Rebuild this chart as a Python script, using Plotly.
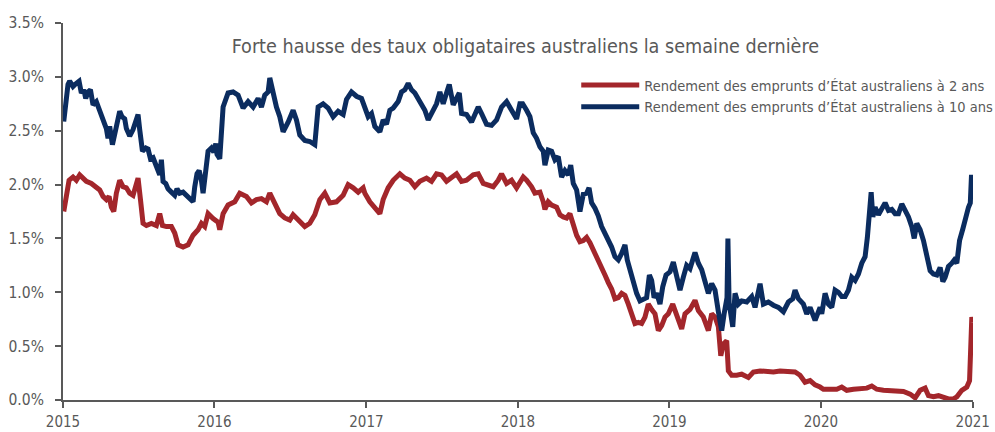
import pandas as pd
import plotly.graph_objects as go

# Time positions are in years since 2015-01-01
t_2y = [0.005, 0.022, 0.040, 0.066, 0.088, 0.110, 0.132, 0.154, 0.187, 0.220, 0.242, 0.264, 0.286, 0.304,
        0.319, 0.335, 0.352, 0.374, 0.396, 0.418, 0.440, 0.462, 0.480, 0.495, 0.511, 0.528, 0.550, 0.583,
        0.616, 0.638, 0.656, 0.682, 0.715, 0.737, 0.759, 0.792, 0.825, 0.858, 0.891, 0.913, 0.935, 0.957,
        0.990, 1.023, 1.034, 1.056, 1.089, 1.133, 1.166, 1.210, 1.243, 1.276, 1.309, 1.342, 1.364, 1.397,
        1.430, 1.463, 1.496, 1.518, 1.551, 1.595, 1.628, 1.661, 1.694, 1.727, 1.760, 1.804, 1.848, 1.881,
        1.914, 1.947, 1.980, 1.991, 2.024, 2.057, 2.090, 2.112, 2.145, 2.178, 2.222, 2.255, 2.288, 2.321,
        2.354, 2.398, 2.431, 2.464, 2.497, 2.530, 2.563, 2.596, 2.629, 2.662, 2.706, 2.739, 2.772, 2.805,
        2.838, 2.871, 2.893, 2.926, 2.959, 2.992, 3.036, 3.058, 3.091, 3.113, 3.146, 3.168, 3.179, 3.201,
        3.223, 3.256, 3.278, 3.300, 3.322, 3.344, 3.366, 3.388, 3.410, 3.432, 3.454, 3.476, 3.509, 3.531,
        3.553, 3.575, 3.597, 3.619, 3.641, 3.663, 3.685, 3.707, 3.729, 3.751, 3.773, 3.795, 3.817, 3.839,
        3.861, 3.883, 3.905, 3.927, 3.949, 3.971, 3.993, 4.022, 4.048, 4.081, 4.103, 4.136, 4.169, 4.191,
        4.224, 4.257, 4.279, 4.301, 4.323, 4.339, 4.356, 4.378, 4.389, 4.411, 4.444, 4.477, 4.521, 4.554,
        4.598, 4.642, 4.686, 4.730, 4.785, 4.829, 4.862, 4.895, 4.928, 4.961, 4.994, 5.016, 5.060, 5.104,
        5.137, 5.170, 5.214, 5.258, 5.302, 5.335, 5.368, 5.412, 5.456, 5.500, 5.544, 5.588, 5.621, 5.654,
        5.687, 5.709, 5.742, 5.775, 5.808, 5.841, 5.874, 5.896, 5.929, 5.962, 5.980, 5.990, 5.995, 6.000]
y_2y = [1.75, 1.92, 2.04, 2.07, 2.04, 2.09, 2.06, 2.03, 2.01, 1.98, 1.95, 1.89, 1.86, 1.89,
        1.79, 1.75, 1.92, 2.04, 1.98, 1.97, 1.92, 1.90, 2.00, 2.06, 1.86, 1.64, 1.62, 1.64,
        1.62, 1.73, 1.62, 1.61, 1.61, 1.55, 1.44, 1.42, 1.44, 1.53, 1.58, 1.64, 1.61, 1.73,
        1.685, 1.65, 1.58, 1.73, 1.81, 1.84, 1.92, 1.89, 1.83, 1.86, 1.87, 1.84, 1.92, 1.83,
        1.73, 1.69, 1.67, 1.72, 1.67, 1.61, 1.64, 1.72, 1.86, 1.92, 1.83, 1.84, 1.90, 2.00,
        1.97, 1.93, 1.97, 1.92, 1.84, 1.79, 1.73, 1.86, 1.97, 2.04, 2.10, 2.06, 2.04, 1.98,
        2.03, 2.06, 2.03, 2.10, 2.09, 2.03, 2.07, 2.10, 2.03, 2.04, 2.09, 2.10, 2.01, 2.00,
        1.98, 2.04, 2.10, 2.01, 2.04, 1.97, 2.07, 2.04, 1.98, 1.92, 1.93, 1.84, 1.77, 1.84,
        1.81, 1.79, 1.72, 1.70, 1.69, 1.73, 1.61, 1.53, 1.47, 1.48, 1.51, 1.46, 1.36, 1.30,
        1.24, 1.16, 1.09, 1.03, 0.94, 0.95, 0.99, 0.97, 0.89, 0.80, 0.71, 0.72, 0.71, 0.77,
        0.89, 0.84, 0.80, 0.645, 0.69, 0.77, 0.80, 0.89, 0.79, 0.66, 0.80, 0.84, 0.925, 0.83,
        0.77, 0.645, 0.80, 0.77, 0.68, 0.41, 0.52, 0.55, 0.27, 0.23, 0.23, 0.24, 0.21, 0.26,
        0.27, 0.26, 0.26, 0.27, 0.26, 0.26, 0.23, 0.165, 0.18, 0.14, 0.12, 0.10, 0.10, 0.10,
        0.12, 0.09, 0.10, 0.11, 0.11, 0.13, 0.10, 0.09, 0.09, 0.09, 0.08, 0.055, 0.02, 0.09,
        0.11, 0.04, 0.03, 0.04, 0.02, 0.01, 0.01, 0.03, 0.09, 0.12, 0.18, 0.615, 0.77, 0.72]

t_10y = [0.005, 0.022, 0.033, 0.044, 0.066, 0.088, 0.106, 0.121, 0.137, 0.150, 0.165, 0.181, 0.198, 0.220,
         0.242, 0.264, 0.286, 0.297, 0.308, 0.326, 0.341, 0.356, 0.374, 0.389, 0.407, 0.418, 0.440, 0.462,
         0.480, 0.495, 0.506, 0.524, 0.546, 0.561, 0.577, 0.594, 0.616, 0.638, 0.649, 0.660, 0.678, 0.693,
         0.715, 0.737, 0.752, 0.770, 0.792, 0.814, 0.836, 0.858, 0.869, 0.884, 0.898, 0.913, 0.924, 0.942,
         0.957, 0.979, 0.995, 1.008, 1.016, 1.034, 1.056, 1.089, 1.122, 1.155, 1.188, 1.221, 1.254, 1.287,
         1.309, 1.331, 1.353, 1.364, 1.386, 1.408, 1.430, 1.452, 1.485, 1.518, 1.540, 1.562, 1.595, 1.628,
         1.661, 1.683, 1.716, 1.749, 1.782, 1.815, 1.848, 1.870, 1.903, 1.936, 1.969, 1.991, 2.013, 2.035,
         2.057, 2.090, 2.112, 2.134, 2.156, 2.178, 2.211, 2.233, 2.255, 2.277, 2.299, 2.321, 2.343, 2.365,
         2.387, 2.409, 2.431, 2.464, 2.486, 2.508, 2.530, 2.548, 2.574, 2.596, 2.614, 2.629, 2.662, 2.695,
         2.717, 2.739, 2.761, 2.794, 2.827, 2.860, 2.893, 2.926, 2.959, 2.992, 3.014, 3.032, 3.058, 3.080,
         3.102, 3.124, 3.146, 3.168, 3.179, 3.201, 3.223, 3.245, 3.267, 3.289, 3.311, 3.333, 3.349, 3.366,
         3.388, 3.410, 3.432, 3.454, 3.470, 3.487, 3.509, 3.531, 3.553, 3.575, 3.597, 3.619, 3.641, 3.663,
         3.685, 3.707, 3.722, 3.740, 3.762, 3.784, 3.806, 3.828, 3.850, 3.868, 3.883, 3.899, 3.916, 3.938,
         3.956, 3.978, 4.004, 4.026, 4.048, 4.070, 4.092, 4.114, 4.136, 4.154, 4.169, 4.191, 4.213, 4.235,
         4.257, 4.279, 4.301, 4.323, 4.345, 4.361, 4.380, 4.386, 4.394, 4.418, 4.433, 4.455, 4.477, 4.510,
         4.543, 4.565, 4.598, 4.620, 4.653, 4.686, 4.719, 4.752, 4.785, 4.814, 4.829, 4.851, 4.884, 4.906,
         4.928, 4.961, 4.994, 5.005, 5.027, 5.049, 5.071, 5.093, 5.115, 5.137, 5.159, 5.181, 5.203, 5.225,
         5.247, 5.269, 5.291, 5.306, 5.320, 5.331, 5.342, 5.357, 5.379, 5.401, 5.423, 5.445, 5.467, 5.489,
         5.511, 5.533, 5.555, 5.577, 5.599, 5.615, 5.632, 5.654, 5.676, 5.698, 5.720, 5.742, 5.764, 5.786,
         5.804, 5.819, 5.841, 5.863, 5.879, 5.896, 5.914, 5.936, 5.958, 5.973, 5.985, 5.993, 6.000]
y_10y = [2.585, 2.78, 2.93, 2.96, 2.91, 2.94, 2.96, 2.85, 2.88, 2.80, 2.86, 2.88, 2.74, 2.77,
         2.69, 2.62, 2.52, 2.43, 2.54, 2.37, 2.48, 2.57, 2.68, 2.63, 2.61, 2.52, 2.45, 2.51,
         2.60, 2.65, 2.51, 2.31, 2.34, 2.33, 2.24, 2.25, 2.17, 2.09, 2.23, 2.03, 2.01, 1.96,
         1.93, 1.90, 1.96, 1.92, 1.93, 1.90, 1.86, 1.84, 1.98, 2.10, 2.13, 2.04, 1.92, 2.20,
         2.31, 2.34, 2.30, 2.38, 2.28, 2.24, 2.72, 2.85, 2.86, 2.83, 2.71, 2.77, 2.72, 2.80,
         2.72, 2.83, 2.86, 2.99, 2.85, 2.72, 2.63, 2.49, 2.58, 2.69, 2.60, 2.46, 2.41, 2.40,
         2.37, 2.72, 2.75, 2.71, 2.63, 2.68, 2.65, 2.79, 2.86, 2.82, 2.80, 2.71, 2.63, 2.66,
         2.54, 2.49, 2.60, 2.56, 2.69, 2.71, 2.77, 2.86, 2.88, 2.94, 2.88, 2.85, 2.79, 2.75,
         2.69, 2.60, 2.66, 2.75, 2.86, 2.75, 2.85, 2.93, 2.74, 2.79, 2.85, 2.66, 2.65, 2.58,
         2.66, 2.72, 2.66, 2.56, 2.55, 2.60, 2.72, 2.77, 2.69, 2.61, 2.75, 2.75, 2.69, 2.63,
         2.48, 2.43, 2.35, 2.31, 2.18, 2.32, 2.31, 2.23, 2.26, 2.07, 2.13, 2.09, 2.18, 2.01,
         1.95, 1.75, 1.91, 1.92, 1.97, 1.83, 1.78, 1.71, 1.61, 1.55, 1.47, 1.42, 1.33, 1.30,
         1.36, 1.44, 1.30, 1.20, 1.11, 0.99, 0.92, 0.94, 0.95, 1.16, 1.11, 0.95, 0.99, 0.89,
         1.05, 1.16, 1.19, 1.28, 1.17, 1.02, 1.14, 1.25, 1.22, 1.30, 1.37, 1.27, 1.21, 1.10,
         0.99, 1.08, 1.02, 0.82, 0.645, 0.80, 0.95, 1.50, 0.90, 0.68, 0.99, 0.89, 0.92, 0.91,
         0.96, 0.86, 1.08, 0.89, 0.91, 0.88, 0.86, 0.82, 0.91, 0.94, 1.02, 0.94, 0.89, 0.80,
         0.86, 0.74, 0.86, 0.80, 0.99, 0.89, 0.86, 1.02, 1.00, 0.96, 0.96, 1.02, 1.14, 1.11,
         1.17, 1.27, 1.33, 1.51, 1.79, 1.93, 1.70, 1.79, 1.72, 1.77, 1.83, 1.76, 1.77, 1.73,
         1.73, 1.82, 1.77, 1.70, 1.61, 1.50, 1.64, 1.58, 1.48, 1.33, 1.20, 1.17, 1.16, 1.23,
         1.10, 1.14, 1.24, 1.27, 1.30, 1.27, 1.48, 1.59, 1.73, 1.79, 1.83, 2.09, 1.92]

year_ticks = ["2015", "2016", "2017", "2018", "2019", "2020", "2021"]
y_ticks = [0.0, 0.5, 1.0, 1.5, 2.0, 2.5, 3.0, 3.5]

name_2y = "Rendement des emprunts d’État australiens à 2 ans"
name_10y = "Rendement des emprunts d’État australiens à 10 ans"
title = "Forte hausse des taux obligataires australiens la semaine dernière"

base = pd.Timestamp("2015-01-01")
def to_dates(ts):
    return [base + pd.Timedelta(days=t * 365.25) for t in ts]

FONT = "Liberation Sans Narrow, Arial Narrow, DejaVu Sans Condensed, sans-serif"
GREY = "#595959"
RED = "#a3262b"
BLUE = "#0b2c5f"

fig = go.Figure()
fig.add_trace(go.Scatter(x=to_dates(t_2y), y=y_2y, mode="lines", name=name_2y,
                         line=dict(color=RED, width=5)))
fig.add_trace(go.Scatter(x=to_dates(t_10y), y=y_10y, mode="lines", name=name_10y,
                         line=dict(color=BLUE, width=5)))

fig.update_layout(
    width=995, height=432,
    margin=dict(l=63, r=22, t=23, b=32, autoexpand=False),
    paper_bgcolor="white", plot_bgcolor="white",
    font=dict(family=FONT, color=GREY, size=15),
    title=dict(text=title, x=0.528, xanchor="center", y=1 - 46 / 432, yanchor="middle",
               font=dict(family=FONT, size=19.6, color=GREY)),
    legend=dict(x=0.564, xanchor="left", y=0.878, yanchor="top", bgcolor="rgba(0,0,0,0)",
                font=dict(family=FONT, size=14.5, color=GREY), itemwidth=58, tracegroupgap=0),
    showlegend=True,
)
fig.update_xaxes(
    type="date", range=[base, pd.Timestamp("2021-01-01 12:00")],
    tickvals=[pd.Timestamp(f"{y}-01-01") for y in year_ticks], ticktext=year_ticks,
    showline=True, linecolor=GREY, linewidth=2, ticks="outside", ticklen=6, tickwidth=2,
    tickcolor=GREY, showgrid=False, zeroline=False, tickfont=dict(size=15, color=GREY),
    ticklabelstandoff=1,
)
fig.update_yaxes(
    range=[0, 3.5], tickvals=y_ticks, ticktext=[f"{v:.1f}%" for v in y_ticks],
    showline=True, linecolor=GREY, linewidth=2, ticks="outside", ticklen=6, tickwidth=2,
    tickcolor=GREY, showgrid=False, zeroline=False, tickfont=dict(size=15.5, color=GREY),
    ticklabelstandoff=8,
)

fig.write_html("out.html", config={"displayModeBar": False},
               post_script="document.body.style.margin='0';document.body.style.padding='0';")
